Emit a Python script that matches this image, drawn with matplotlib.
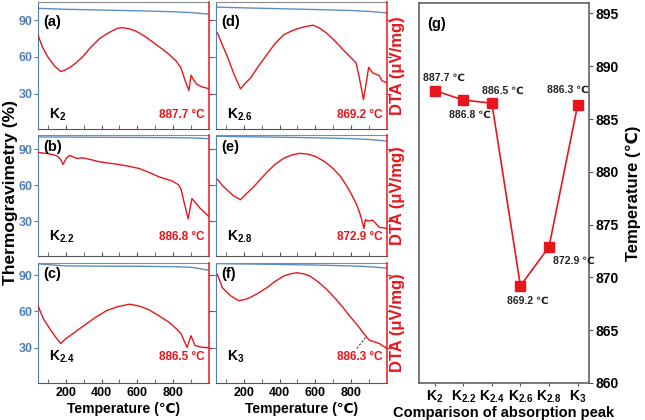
import matplotlib
matplotlib.use("Agg")
import matplotlib.pyplot as plt
from matplotlib.ticker import MultipleLocator, FixedLocator

plt.rcParams['font.family'] = ['Liberation Sans', 'DejaVu Sans']
plt.rcParams['font.weight'] = 'bold'
plt.rcParams['axes.labelweight'] = 'bold'
plt.rcParams['mathtext.fontset'] = 'custom'
plt.rcParams['mathtext.rm'] = 'Liberation Sans:bold'
plt.rcParams['mathtext.it'] = 'Liberation Sans:bold'
plt.rcParams['mathtext.bf'] = 'Liberation Sans:bold'

BLUE = "#4f7fb5"
TGLINE = "#5b8ec4"
RED = "#e8161b"
GREY = "#555555"

# ── data ───────────────────────────────────────────────────────────────────
samples = ["2", "2.2", "2.4", "2.6", "2.8", "3"]
peak_temp = [887.7, 886.8, 886.5, 869.2, 872.9, 886.3]
panel_tags = ["(a)", "(b)", "(c)", "(d)", "(e)", "(f)"]

# thermogravimetry (%), same temperature grid for every sample
tg_t = [45, 200, 400, 600, 800, 900, 1000]
tg_k20 = [99.8, 99.0, 98.4, 97.8, 97.0, 96.3, 95.0]
tg_k22 = [100.4, 100.3, 100.1, 100.0, 99.8, 99.6, 99.0]
tg_k24 = [99.3, 97.6, 97.4, 97.3, 97.0, 96.5, 94.0]
tg_k26 = [100.8, 100.2, 99.5, 98.8, 98.0, 97.3, 96.0]
tg_k28 = [101.0, 100.6, 100.2, 99.7, 99.0, 98.3, 97.0]
tg_k30 = [99.5, 99.2, 98.8, 98.3, 97.6, 97.0, 95.8]

# DTA traces (plotted on the panel's own scale, no units shown)
dta_k20_t = [45, 70, 100, 135, 172, 200, 230, 260, 294, 340, 389, 425, 461,
             490, 517, 555, 594, 640, 683, 730, 778, 815, 844, 865, 888, 900,
             915, 933, 960, 1000]
dta_k20_v = [78, 68, 60, 53, 48, 49.5, 52, 55.5, 60, 68, 75, 78.5, 81.5,
             83.5, 84, 83, 81, 77, 72.5, 67.5, 62, 57, 51, 41.5, 32.5, 45,
             41, 37.5, 35.5, 34]
dta_k22_t = [45, 100, 150, 170, 185, 205, 222, 261, 294, 340, 389, 483, 550,
             611, 670, 722, 794, 830, 844, 861, 884, 905, 950, 1000]
dta_k22_v = [87.5, 86.5, 84.7, 82, 77.5, 83, 85, 82.5, 83, 81.5, 79.6, 77.7,
             76, 74, 70.5, 67, 63.7, 60.5, 57, 46, 32, 49, 41, 34]
dta_k24_t = [45, 75, 111, 145, 172, 200, 233, 275, 317, 370, 428, 490, 556,
             610, 667, 720, 778, 820, 844, 878, 900, 922, 960, 1000]
dta_k24_v = [64.8, 54, 45.8, 38.5, 33.6, 37.5, 41, 45.5, 50, 55.5, 60.7, 64,
             66, 64.5, 61.3, 56.5, 51, 45.5, 41.7, 30.3, 40, 32, 30.5, 30]
dta_k26_t = [53, 80, 108, 145, 182, 205, 237, 280, 330, 375, 422, 470, 514,
             550, 588, 625, 662, 710, 754, 795, 828, 846, 869, 898, 920, 957,
             972, 1000]
dta_k26_v = [79.6, 70, 60.5, 46, 33.8, 38, 42.6, 52, 62, 71, 78, 81.5, 83.7,
             85, 86, 83.5, 79.6, 73, 66, 60, 55, 42.8, 25, 51.5, 47, 44.7,
             40.6, 38.7]
dta_k28_t = [53, 80, 108, 145, 182, 215, 255, 290, 330, 375, 422, 470, 514,
             560, 606, 655, 699, 740, 773, 800, 828, 850, 872, 880, 893, 920,
             957, 1000]
dta_k28_v = [65, 60, 56, 51, 48, 53, 58.7, 64.5, 71, 77.5, 82.5, 85.5, 86.7,
             86, 83.8, 79.5, 74, 67.5, 60, 53, 44.8, 36, 24, 31.5, 30, 31,
             25, 24]
dta_k30_t = [53, 80, 126, 172, 205, 237, 285, 330, 375, 422, 460, 496, 535,
             570, 615, 662, 710, 754, 790, 828, 865, 886, 902, 930, 957, 1000]
dta_k30_v = [90.6, 79.7, 73, 68.9, 69.8, 71.6, 75.5, 79.7, 84.8, 89.2, 91,
             92, 91, 89.2, 84.5, 78.4, 71, 63.4, 56.5, 50, 43, 39, 36.3, 35,
             33.6, 29.5]

tg_all = [tg_k20, tg_k22, tg_k24, tg_k26, tg_k28, tg_k30]
dta_all = [(dta_k20_t, dta_k20_v), (dta_k22_t, dta_k22_v),
           (dta_k24_t, dta_k24_v), (dta_k26_t, dta_k26_v),
           (dta_k28_t, dta_k28_v), (dta_k30_t, dta_k30_v)]

# ── layout ────────────────────────────────────────────────────────────────
fig = plt.figure(figsize=(6.45, 4.2), dpi=100)
col_x = [0.0589, 0.3349]
col_w = 0.265
rows = [(0.6929, 0.3024), (0.3905, 0.2880), (0.0881, 0.2857)]
row_ylim = [(1, 105), (1, 102), (1, 100)]
row_tag_y = [0.84, 0.90, 0.91]
row_lab_y = [0.11, 0.16, 0.22]


def bold_ticks(ax):
    for lab in ax.get_xticklabels() + ax.get_yticklabels():
        lab.set_fontweight("bold")


for i in range(6):
    col, row = divmod(i, 3)
    b, h = rows[row]
    ax = fig.add_axes([col_x[col], b, col_w, h])
    ax.plot(tg_t, tg_all[i], color=TGLINE, lw=1.0)
    ax.set_xlim(45, 1000)
    ax.set_ylim(*row_ylim[row])
    ax.yaxis.set_major_locator(FixedLocator([30, 60, 90]))
    ax.xaxis.set_major_locator(FixedLocator([200, 400, 600, 800]))
    ax.xaxis.set_minor_locator(FixedLocator([100, 300, 500, 700, 900]))
    ax.tick_params(axis="x", which="both", direction="in", length=3,
                   color=GREY, labelsize=9, pad=3)
    ax.tick_params(axis="y", direction="out", length=3, color=BLUE,
                   labelcolor=BLUE, labelsize=9, pad=1)
    if col == 1:
        ax.tick_params(axis="y", labelleft=False)
    if row < 2:
        ax.tick_params(axis="x", labelbottom=False)
    else:
        ax.set_xlabel("Temperature (℃)", fontsize=10, labelpad=2)
    bold_ticks(ax)
    ax.spines["left"].set_color(BLUE)
    ax.spines["bottom"].set_color(GREY)
    ax.spines["top"].set_color("#8a8a8a")
    ax.spines["right"].set_visible(False)

    ax2 = ax.twinx()
    ax2.plot(*dta_all[i], color=RED, lw=1.0)
    ax2.set_ylim(*row_ylim[row])
    ax2.yaxis.set_major_locator(FixedLocator([30, 60, 90]))
    ax2.tick_params(axis="y", direction="out", length=3, color=RED,
                    labelright=False)
    for s in ("left", "top", "bottom"):
        ax2.spines[s].set_visible(False)
    ax2.spines["right"].set_color(RED)
    ax2.spines["right"].set_linewidth(1.1)

    ax2.text(0.03, row_tag_y[row], panel_tags[i], transform=ax2.transAxes,
             fontsize=10.5, ha="left", va="center")
    ax2.text(0.065, row_lab_y[row], r"$\mathrm{K}_{%s}$" % samples[i],
             transform=ax2.transAxes, fontsize=10, ha="left", va="center")
    ax2.text(0.975, row_lab_y[row], f"{peak_temp[i]} °C",
             transform=ax2.transAxes, fontsize=8.5, color=RED,
             ha="right", va="center")
    if i == 5:
        ax2.plot([880, 832], [38.5, 29.5], ls=(0, (2, 1.5)), color="#333333",
                 lw=0.8)

for b, h in rows:
    fig.text(0.617, b + h / 2, "DTA (μV/mg)", rotation=90, color=RED,
             fontsize=12, ha="center", va="center")
fig.text(0.016, 0.542, "Thermogravimetry (%)", rotation=90, fontsize=12.5,
         ha="center", va="center")

# ── (g) comparison of absorption peaks ────────────────────────────────────
ax_g = fig.add_axes([0.6496, 0.0881, 0.2636, 0.905])
xs = list(range(len(samples)))
ax_g.plot(xs, peak_temp, color=RED, lw=1.2, marker="s", ms=6.5,
          markerfacecolor=RED, markeredgecolor=RED)
ax_g.set_xlim(-0.55, 5.4)
ax_g.set_ylim(860, 896)
ax_g.set_xticks(xs)
ax_g.set_xticklabels([r"$\mathrm{K}_{%s}$" % s for s in samples], fontsize=10)
ax_g.yaxis.set_major_locator(MultipleLocator(5))
ax_g.yaxis.tick_right()
ax_g.yaxis.set_label_position("right")
ax_g.tick_params(axis="y", direction="out", length=3, color=GREY,
                 labelsize=10, pad=2)
ax_g.tick_params(axis="x", direction="out", length=2, color=GREY, pad=2)
bold_ticks(ax_g)
for s in ax_g.spines.values():
    s.set_color(GREY)
    s.set_linewidth(1.1)
ax_g.set_xlabel("Comparison of absorption peak", fontsize=10.5, labelpad=1)
ax_g.set_ylabel("Temperature (℃)", fontsize=12, labelpad=5)
ax_g.text(0.05, 0.945, "(g)", transform=ax_g.transAxes, fontsize=10.5,
          ha="left", va="center")

g_offsets = [(7, 9), (5, -11), (8, 9), (5, -11), (18, -10), (-7, 11)]
for x, t, off in zip(xs, peak_temp, g_offsets):
    ax_g.annotate(f"{t} ℃", (x, t), textcoords="offset points", xytext=off,
                  ha="center", va="center", fontsize=7.5, color="#222222")

fig.savefig("out.png", dpi=100)
